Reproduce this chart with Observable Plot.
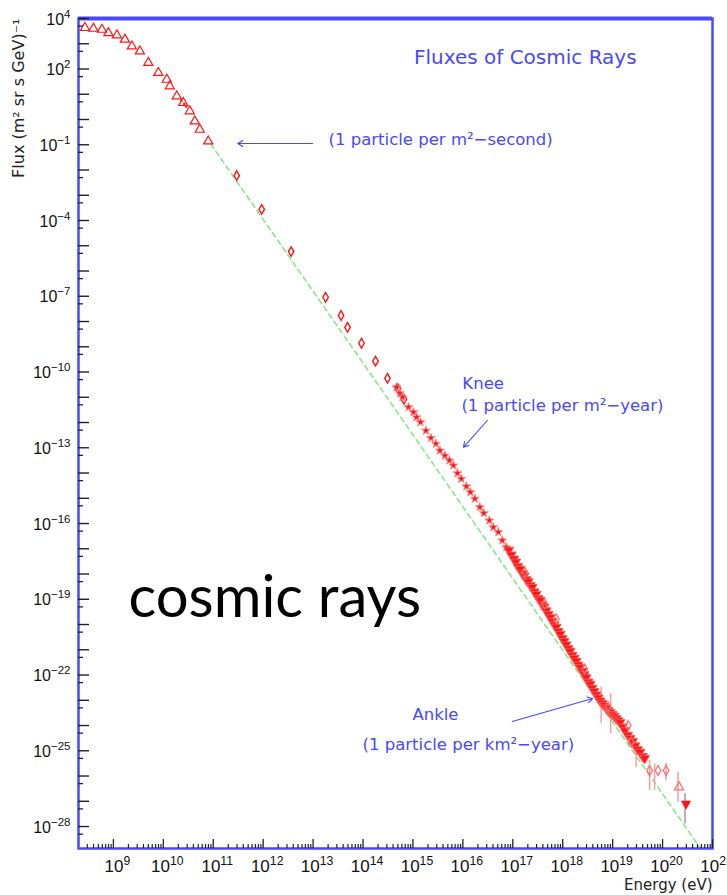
<!DOCTYPE html>
<html>
<head>
<meta charset="utf-8">
<script src="https://cdn.jsdelivr.net/npm/d3@7"></script>
<script src="https://cdn.jsdelivr.net/npm/@observablehq/plot@0.6"></script>
<style>
  html, body { margin: 0; padding: 0; background: #fff; overflow: hidden; }
</style>
</head>
<body>
<div id="chart"></div>
<script>
// All values are log10: energy in eV, flux in (m^2 sr s GeV)^-1.

// Open triangles: low-energy direct measurements
const triLogE = [8.43, 8.60, 8.77, 8.90, 9.07, 9.23, 9.37, 9.53, 9.70, 9.90, 10.07, 10.13, 10.27, 10.40, 10.53, 10.63, 10.73, 10.90];
const triLogF = [3.63, 3.60, 3.56, 3.43, 3.34, 3.17, 2.90, 2.70, 2.25, 1.85, 1.58, 1.32, 0.92, 0.66, 0.33, -0.07, -0.40, -0.86];

// Small filled points among the triangles
const lowFillLogE = [10.36, 10.42, 10.46];
const lowFillLogF = [0.75, 0.62, 0.51];

// Open diamonds: balloon / satellite range
const diaLogE = [11.47, 11.97, 12.56, 13.25, 13.56, 13.69, 13.97, 14.25, 14.49, 14.70, 14.82];
const diaLogF = [-2.22, -3.56, -5.23, -7.04, -7.76, -8.23, -8.86, -9.57, -10.25, -10.66, -11.08];

// Filled stars: air-shower data around the knee
const kneeLogE = [14.67, 14.74, 14.79, 14.91, 15.01, 15.07, 15.15, 15.26, 15.36, 15.46, 15.54, 15.64, 15.73, 15.81, 15.89, 15.97, 16.07, 16.15, 16.24, 16.34, 16.42, 16.53, 16.61, 16.71, 16.79, 16.87];
const kneeLogF = [-10.60, -10.84, -11.00, -11.39, -11.59, -11.79, -11.99, -12.32, -12.61, -12.84, -13.11, -13.31, -13.50, -13.70, -14.01, -14.23, -14.53, -14.76, -15.02, -15.35, -15.59, -15.88, -16.15, -16.34, -16.67, -16.94];

// Filled down-triangles: dense band from 1e17 eV up to the ankle
const bandLogE = [16.92, 16.97, 17.02, 17.06, 17.10, 17.15, 17.19, 17.23, 17.27, 17.31, 17.35, 17.39, 17.43, 17.47, 17.51, 17.55, 17.59, 17.63, 17.67, 17.71, 17.75, 17.79, 17.83, 17.87, 17.91, 17.95, 17.99, 18.03, 18.07, 18.11, 18.15, 18.19, 18.23, 18.27, 18.31, 18.35, 18.39, 18.43, 18.47, 18.51, 18.55, 18.59, 18.63, 18.67, 18.71, 18.75, 18.79, 18.83, 18.87, 18.91, 18.95, 18.99, 19.03, 19.07, 19.11, 19.15, 19.20, 19.25, 19.30, 19.35, 19.40, 19.45, 19.50, 19.55, 19.60, 19.64];
const bandLogF = [-17.05, -17.24, -17.40, -17.52, -17.70, -17.80, -17.98, -18.07, -18.22, -18.30, -18.45, -18.52, -18.70, -18.80, -18.96, -19.03, -19.22, -19.30, -19.45, -19.60, -19.72, -19.86, -20.00, -20.10, -20.27, -20.38, -20.55, -20.66, -20.80, -20.95, -21.05, -21.22, -21.33, -21.45, -21.60, -21.70, -21.85, -21.98, -22.10, -22.27, -22.36, -22.52, -22.64, -22.78, -22.90, -23.02, -23.12, -23.20, -23.30, -23.40, -23.48, -23.55, -23.62, -23.72, -23.80, -23.88, -24.05, -24.20, -24.38, -24.50, -24.62, -24.80, -24.95, -25.05, -25.22, -25.30];

// Open markers mixed into the high-energy band
const openLogE = [17.24, 17.64, 17.87, 18.44, 18.91, 19.31, 19.37, 19.74, 19.91, 20.07];
const openLogF = [-17.93, -19.19, -19.78, -21.76, -23.27, -24.00, -24.66, -25.78, -25.78, -25.78];

// Highest-energy points
const topTriLogE = [20.33];
const topTriLogF = [-26.44];
const lastLogE = [20.47];
const lastLogF = [-27.10];

// Error bars: [log10 E, log10 low, log10 high]
const errBars = [
  [18.77, -23.93, -22.48], [18.96, -24.33, -22.74], [19.47, -25.65, -24.59],
  [19.74, -26.57, -25.39], [19.84, -26.57, -25.52], [20.07, -26.20, -25.50],
  [20.31, -27.04, -25.85]
];
const lastErr = [[20.45, -27.89, -26.70]];

// Reference power law (dashed green)
const guideLogE = [10.95, 20.76];
const guideLogF = [-0.97, -28.87];

// Axis labels (exponents of ten)
const xLabelExps = [9, 10, 11, 12, 13, 14, 15, 16, 17, 18, 19, 20, 21];
const yLabelExps = [4, 2, -1, -4, -7, -10, -13, -16, -19, -22, -25, -28];

// Text annotations
const notes = [
  {e: 13.31, f: -0.79, label: "(1 particle per m²−second)"},
  {e: 15.99, f: -10.46, label: "Knee"},
  {e: 15.97, f: -11.33, label: "(1 particle per m²−year)"},
  {e: 14.99, f: -23.56, label: "Ankle"},
  {e: 13.99, f: -24.75, label: "(1 particle per km²−year)"}
];
const noteArrows = [
  {e1: 12.99, f1: -0.95, e2: 11.49, f2: -0.95},
  {e1: 16.49, f1: -11.92, e2: 16.01, f2: -12.98},
  {e1: 16.99, f1: -23.84, e2: 18.60, f2: -22.93}
];

const W = 727, H = 895;
const M = {top: 18, right: 15, bottom: 47, left: 78};
const innerW = W - M.left - M.right;
const innerH = H - M.top - M.bottom;
const xDomain = [2e8, 1e21];
const yDomain = [10 ** -28.87, 1e4];

const blue = "#4848ff";
const red = "#ff1414";
const tickColor = "#222";

const pts = (es, fs) => es.map((e, i) => ({E: 10 ** e, F: 10 ** fs[i]}));
const tri = pts(triLogE, triLogF);
const lowFill = pts(lowFillLogE, lowFillLogF);
const dia = pts(diaLogE, diaLogF);
const knee = pts(kneeLogE, kneeLogF);
const band = pts(bandLogE, bandLogF);
const open = pts(openLogE, openLogF);
const topTri = pts(topTriLogE, topTriLogF);
const last = pts(lastLogE, lastLogF);
const guide = pts(guideLogE, guideLogF);

// Tick positions: decades, plus 2..9 on x and 5 on y
const xMajor = d3.range(9, 22).map(e => 10 ** e);
const xMinor = [];
for (let e = 8; e <= 20; e++) for (let m = 2; m <= 9; m++) {
  const v = m * 10 ** e;
  if (v > xDomain[0] * 1.001 && v < xDomain[1]) xMinor.push(v);
}
const yMajor = d3.range(-28, 5).map(e => 10 ** e);
const yMinor = d3.range(-29, 4).map(e => 5 * 10 ** e).filter(v => v > yDomain[0] && v < yDomain[1]);

const expText = e => `10^${e < 0 ? "−" + (-e) : e}`;

const chart = Plot.plot({
  width: W,
  height: H,
  marginTop: M.top,
  marginRight: M.right,
  marginBottom: M.bottom,
  marginLeft: M.left,
  style: {fontFamily: "Liberation Sans, Arial, sans-serif", background: "#fff", overflow: "hidden"},
  x: {type: "log", domain: xDomain, axis: null},
  y: {type: "log", domain: yDomain, axis: null},
  marks: [
    // dashed power-law guide
    Plot.line(guide, {x: "E", y: "F", stroke: "#86e886", strokeWidth: 1.6, strokeDasharray: "5,4"}),

    // error bars
    Plot.ruleX(errBars, {x: d => 10 ** d[0], y1: d => 10 ** d[1], y2: d => 10 ** d[2], stroke: "#f3a0a0", strokeWidth: 1.5}),
    Plot.ruleX(lastErr, {x: d => 10 ** d[0], y1: d => 10 ** d[1], y2: d => 10 ** d[2], stroke: "#b9b0b0", strokeWidth: 2}),

    // data markers
    Plot.dot(tri, {x: "E", y: "F", symbol: "triangle", r: 3.4, stroke: red, fill: "none", strokeWidth: 1.2}),
    Plot.dot(lowFill, {x: "E", y: "F", symbol: "square", r: 1.3, fill: red}),
    Plot.dot(dia, {x: "E", y: "F", symbol: "diamond", r: 2.9, stroke: red, fill: "none", strokeWidth: 1.4}),
    Plot.dot(knee, {x: "E", y: "F", symbol: "star", r: 2.8, fill: red, stroke: "#ff8a8a", strokeWidth: 0.9}),
    Plot.dot(band, {x: "E", y: "F", symbol: "triangle", rotate: 180, r: 3.6, fill: red, stroke: "#ff5a5a", strokeWidth: 1}),
    Plot.dot(open, {x: "E", y: "F", symbol: "diamond", r: 3, stroke: "#ff7070", fill: "none", strokeWidth: 1.3}),
    Plot.dot(topTri, {x: "E", y: "F", symbol: "triangle", r: 3.4, stroke: "#ff7070", fill: "none", strokeWidth: 1.3}),
    Plot.dot(last, {x: "E", y: "F", symbol: "triangle", rotate: 180, r: 3.8, fill: red}),

    // frame
    Plot.frame({stroke: blue, strokeWidth: 2.5}),
    Plot.ruleY([yDomain[1]], {stroke: blue, strokeWidth: 4}),

    // inward ticks
    Plot.tickX(xMajor, {x: d => d, insetTop: innerH - 9, stroke: tickColor, strokeWidth: 1.3}),
    Plot.tickX(xMinor, {x: d => d, insetTop: innerH - 4, stroke: tickColor, strokeWidth: 1.2}),
    Plot.tickY(yMajor, {y: d => d, insetRight: innerW - 11, stroke: tickColor, strokeWidth: 1.4}),
    Plot.tickY(yMinor, {y: d => d, insetRight: innerW - 5, stroke: tickColor, strokeWidth: 1.3}),

    // tick labels
    Plot.text(xLabelExps, {x: e => 10 ** e, y: yDomain[0], text: expText, dx: 4, dy: 18, fontSize: 17, fill: "#111", textAnchor: "middle", lineAnchor: "middle"}),
    Plot.text(yLabelExps, {x: xDomain[0], y: e => 10 ** e, text: expText, dx: -8, dy: 1, fontSize: 16, fill: "#111", textAnchor: "end", lineAnchor: "middle"}),

    // axis titles
    Plot.text(["Flux (m² sr s GeV)⁻¹"], {frameAnchor: "top-left", dx: -60, dy: 0, rotate: -90, textAnchor: "end", lineAnchor: "middle", fontSize: 16, fill: "#222", fontFamily: "DejaVu Sans"}),
    Plot.text(["Energy (eV)"], {frameAnchor: "bottom-right", dy: 37, textAnchor: "end", lineAnchor: "middle", fontSize: 15, fill: "#222", fontFamily: "DejaVu Sans"}),

    // title and annotations
    Plot.text(["Fluxes of Cosmic Rays"], {x: 10 ** 17.25, y: 10 ** 2.46, textAnchor: "middle", fontSize: 20, fill: blue, fontFamily: "DejaVu Sans"}),
    Plot.text(notes, {x: d => 10 ** d.e, y: d => 10 ** d.f, text: "label", textAnchor: "start", fontSize: 16.5, fill: blue, fontFamily: "DejaVu Sans"}),
    Plot.arrow(noteArrows, {x1: d => 10 ** d.e1, y1: d => 10 ** d.f1, x2: d => 10 ** d.e2, y2: d => 10 ** d.f2, stroke: blue, strokeWidth: 1.1, headLength: 8}),

    // overlay caption
    Plot.text(["cosmic rays"], {frameAnchor: "top-left", dx: 50, dy: 580, textAnchor: "start", lineAnchor: "middle", fontSize: 58, fill: "#000", fontFamily: "Lato"})
  ]
});

// Render "10^n" labels with a raised exponent
d3.select(chart).selectAll("text").each(function () {
  const t = this.textContent;
  if (!t.includes("^")) return;
  const [base, exp] = t.split("^");
  const sel = d3.select(this);
  sel.text(null);
  sel.append("tspan").text(base);
  sel.append("tspan").attr("font-size", "0.72em").attr("dy", "-0.6em").text(exp);
});

document.getElementById("chart").appendChild(chart);
</script>
</body>
</html>
